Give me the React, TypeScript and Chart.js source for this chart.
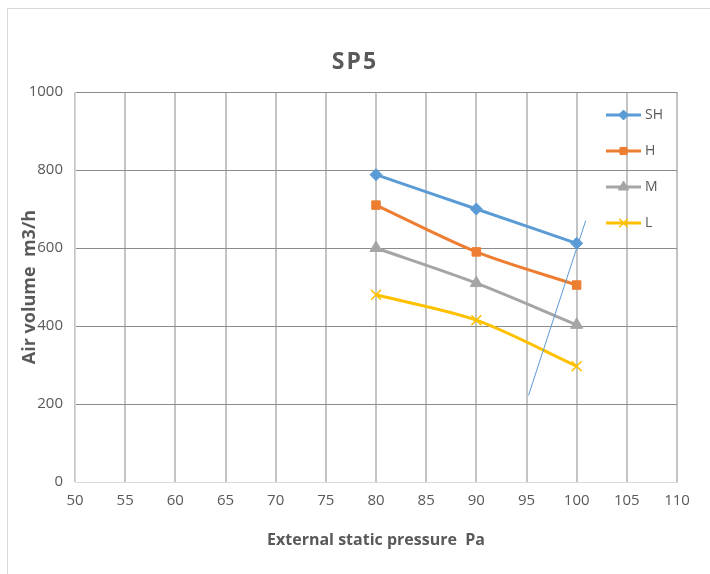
import React, { useEffect, useRef } from "react";
import { Chart, registerables } from "chart.js";
import { drawPoint } from "chart.js/helpers";

Chart.register(...registerables);

const pressures = [80, 90, 100];
const shValues = [788, 700, 612];
const hValues = [710, 590, 505];
const mValues = [600, 510, 403];
const lValues = [480, 415, 297];
const refLineX = [95.2, 100.9];
const refLineY = [222, 670];
const xTicks = [50, 55, 60, 65, 70, 75, 80, 85, 90, 95, 100, 105, 110];
const yTicks = [0, 200, 400, 600, 800, 1000];
const seriesNames = ["SH", "H", "M", "L"];
const titleText = "SP5";
const xTitle = "External static pressure  Pa";
const yTitle = "Air volume  m3/h";

const FONT = "'Open Sans', 'Noto Sans', sans-serif";
const TEXT = "#595959";

const toPts = (xs: number[], ys: number[]) => xs.map((x, i) => ({ x, y: ys[i] }));

const overlayPlugin = {
  id: "overlay",
  afterDraw(chart: any) {
    const ctx = chart.ctx;
    ctx.save();
    // Title
    ctx.fillStyle = TEXT;
    ctx.font = `bold 23px ${FONT}`;
    ctx.textAlign = "center";
    ctx.textBaseline = "middle";
    try { ctx.letterSpacing = "2px"; } catch (e) {}
    ctx.fillText(titleText, 355, 62);
    try { ctx.letterSpacing = "0px"; } catch (e) {}
    // Legend
    const items = chart.data.datasets.filter((d: any) => d.inLegend);
    items.forEach((d: any, i: number) => {
      const y = 115 + i * 36;
      const x0 = 606;
      const x1 = 641;
      ctx.strokeStyle = d.borderColor;
      ctx.lineWidth = 3;
      ctx.beginPath();
      ctx.moveTo(x0, y);
      ctx.lineTo(x1, y);
      ctx.stroke();
      ctx.fillStyle = d.pointBackgroundColor;
      ctx.strokeStyle = d.pointBorderColor;
      ctx.lineWidth = d.pointBorderWidth;
      drawPoint(ctx, { pointStyle: d.pointStyle, rotation: 0, radius: d.pointRadius - 1, borderWidth: d.pointBorderWidth }, (x0 + x1) / 2, y);
      ctx.fillStyle = TEXT;
      ctx.font = `14px ${FONT}`;
      ctx.textAlign = "left";
      ctx.textBaseline = "middle";
      ctx.fillText(d.label, 645, y);
    });
    ctx.restore();
  },
};

export default function App() {
  const ref = useRef<HTMLCanvasElement | null>(null);
  useEffect(() => {
    if (!ref.current) return;
    const mk = (label: string, values: number[], color: string, style: string, radius: number, bw: number) => ({
      label,
      data: toPts(pressures, values),
      borderColor: color,
      backgroundColor: color,
      pointBackgroundColor: color,
      pointBorderColor: color,
      pointStyle: style,
      pointRadius: radius,
      pointBorderWidth: bw,
      borderWidth: 3,
      tension: 0.3,
      showLine: true,
      inLegend: true,
    });
    const chart = new Chart(ref.current, {
      type: "scatter",
      data: {
        datasets: [
          {
            label: "ref",
            data: toPts(refLineX, refLineY),
            borderColor: "#5b9bd5",
            backgroundColor: "#5b9bd5",
            borderWidth: 1,
            pointRadius: 0,
            showLine: true,
            tension: 0,
          } as any,
          mk(seriesNames[0], shValues, "#5b9bd5", "rectRot", 6, 1),
          mk(seriesNames[1], hValues, "#ed7d31", "rect", 6, 1),
          mk(seriesNames[2], mValues, "#a5a5a5", "triangle", 7, 1),
          mk(seriesNames[3], lValues, "#ffc000", "crossRot", 7, 1.5),
        ],
      },
      options: {
        animation: false,
        responsive: false,
        devicePixelRatio: 1,
        layout: { padding: { top: 92, right: 33, left: 0, bottom: 0 } },
        plugins: { legend: { display: false }, title: { display: false }, tooltip: { enabled: false } },
        scales: {
          x: {
            type: "linear",
            min: 50,
            max: 110,
            afterBuildTicks: (s: any) => { s.ticks = xTicks.map((v) => ({ value: v })); },
            afterFit: (s: any) => { s.height = 92; },
            grid: { color: "#c4c4c4", lineWidth: 2, drawTicks: false },
            border: { color: "#d9d9d9", width: 1 },
            ticks: { color: TEXT, font: { family: FONT, size: 15 }, padding: 10, maxRotation: 0, callback: (v: any) => String(v) },
            title: { display: true, text: xTitle, color: TEXT, font: { family: FONT, size: 16, weight: "bold" }, padding: { top: 0, bottom: 24 } },
          },
          y: {
            type: "linear",
            min: 0,
            max: 1000,
            afterBuildTicks: (s: any) => { s.ticks = yTicks.map((v) => ({ value: v })); },
            afterFit: (s: any) => { s.width = 75; },
            grid: { color: "#8c8c8c", lineWidth: 1, drawTicks: false },
            border: { color: "#d9d9d9", width: 1 },
            ticks: { color: TEXT, font: { family: FONT, size: 15 }, padding: 12, callback: (v: any) => String(v) },
            title: { display: true, text: yTitle, color: TEXT, font: { family: FONT, size: 18, weight: "bold" }, padding: { top: 19, bottom: 0 } },
          },
        },
      } as any,
      plugins: [overlayPlugin],
    });
    return () => chart.destroy();
  }, []);
  return (
    <>
      <div style={{ position: "absolute", left: 7, top: 8, width: 710, height: 574, borderLeft: "1px solid #d9d9d9", borderTop: "1px solid #d9d9d9", boxSizing: "border-box" }} />
      <canvas ref={ref} width={710} height={574} style={{ position: "absolute", left: 0, top: 0, width: 710, height: 574 }} />
    </>
  );
}
